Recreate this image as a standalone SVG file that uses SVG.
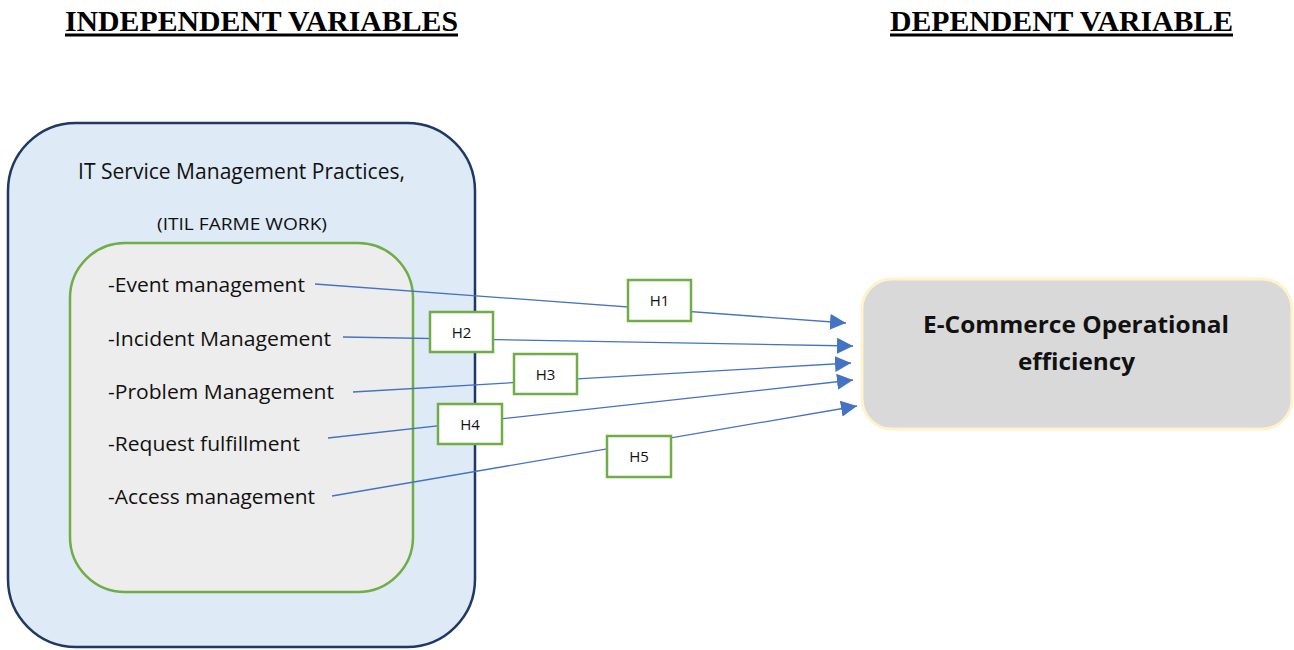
<svg xmlns="http://www.w3.org/2000/svg" width="1294" height="650" viewBox="0 0 1294 650">
  <style>
    .hdr { font-family: "Liberation Serif", "Times New Roman", serif; font-weight: bold; font-size: 30px; fill: #000; }
    .uline { stroke: #000; stroke-width: 3; }
    .body { font-family: "Open Sans", "Noto Sans", sans-serif; fill: #111; }
    .item { font-size: 20.5px; }
    .hbox { fill: #fff; stroke: #70ad47; stroke-width: 2.5; }
    .hlbl { font-family: "Open Sans", "Noto Sans", sans-serif; font-size: 15px; fill: #111; text-anchor: middle; }
    .conn { stroke: #4472c4; stroke-width: 1.3; fill: none; marker-end: url(#arrow); }
  </style>
  <defs>
    <marker id="arrow" markerUnits="userSpaceOnUse" markerWidth="17" markerHeight="16" refX="16" refY="8" orient="auto">
      <path d="M0,0 L16,8 L0,16 Z" fill="#4472c4"/>
    </marker>
  </defs>
  <rect width="1294" height="650" fill="#fff"/>

  <!-- Column headings -->
  <g id="heading-independent">
    <text class="hdr" x="65" y="31" textLength="393" lengthAdjust="spacingAndGlyphs">INDEPENDENT VARIABLES</text>
    <line class="uline" x1="65" y1="35" x2="458" y2="35"/>
  </g>
  <g id="heading-dependent">
    <text class="hdr" x="890" y="31" textLength="343" lengthAdjust="spacingAndGlyphs">DEPENDENT VARIABLE</text>
    <line class="uline" x1="890" y1="35" x2="1233" y2="35"/>
  </g>

  <!-- ITSM practices container -->
  <g id="itsm-practices">
    <rect x="8" y="123" width="467" height="524" rx="68" ry="68" fill="#deeaf6" stroke="#1f3864" stroke-width="2.5"/>
    <text class="body" x="78" y="179" font-size="21px" textLength="327" lengthAdjust="spacingAndGlyphs">IT Service Management Practices,</text>
    <text class="body" x="157" y="230" font-size="17px" textLength="170" lengthAdjust="spacingAndGlyphs">(ITIL FARME WORK)</text>
  </g>

  <!-- ITIL processes list -->
  <g id="itil-processes">
    <rect x="70" y="243" width="343" height="349" rx="55" ry="55" fill="#ededed" stroke="#70ad47" stroke-width="2.5"/>
    <text class="body item" x="108" y="292" textLength="197" lengthAdjust="spacingAndGlyphs">-Event management</text>
    <text class="body item" x="108" y="346" textLength="223" lengthAdjust="spacingAndGlyphs">-Incident Management</text>
    <text class="body item" x="108" y="399" textLength="226" lengthAdjust="spacingAndGlyphs">-Problem Management</text>
    <text class="body item" x="108" y="451" textLength="192" lengthAdjust="spacingAndGlyphs">-Request fulfillment</text>
    <text class="body item" x="108" y="504" textLength="207" lengthAdjust="spacingAndGlyphs">-Access management</text>
  </g>

  <!-- Dependent variable -->
  <g id="ecommerce-efficiency">
    <rect x="862" y="279" width="430" height="150" rx="30" ry="30" fill="#d9d9d9" stroke="#fff2cc" stroke-width="3"/>
    <text class="body" x="923" y="333" font-size="24px" font-weight="bold" textLength="306" lengthAdjust="spacingAndGlyphs">E-Commerce Operational</text>
    <text class="body" x="1018" y="370" font-size="24px" font-weight="bold" textLength="117" lengthAdjust="spacingAndGlyphs">efficiency</text>
  </g>

  <!-- Hypothesis connectors -->
  <g id="connectors">
    <path class="conn" d="M315,284 L846,323"/>
    <path class="conn" d="M343,337 L853,346"/>
    <path class="conn" d="M353,392 L851,363"/>
    <path class="conn" d="M328,438 L853,380"/>
    <path class="conn" d="M332,496 L857,406"/>
  </g>

  <!-- Hypothesis labels -->
  <g id="h1">
    <rect class="hbox" x="628" y="280" width="63" height="41"/>
    <text class="hlbl" x="659.5" y="306">H1</text>
  </g>
  <g id="h2">
    <rect class="hbox" x="430" y="312" width="63" height="40"/>
    <text class="hlbl" x="461.5" y="338">H2</text>
  </g>
  <g id="h3">
    <rect class="hbox" x="514" y="354" width="63" height="40"/>
    <text class="hlbl" x="545.5" y="380">H3</text>
  </g>
  <g id="h4">
    <rect class="hbox" x="438" y="404" width="64" height="40"/>
    <text class="hlbl" x="470" y="430">H4</text>
  </g>
  <g id="h5">
    <rect class="hbox" x="607" y="436" width="64" height="41"/>
    <text class="hlbl" x="639" y="462">H5</text>
  </g>
</svg>
